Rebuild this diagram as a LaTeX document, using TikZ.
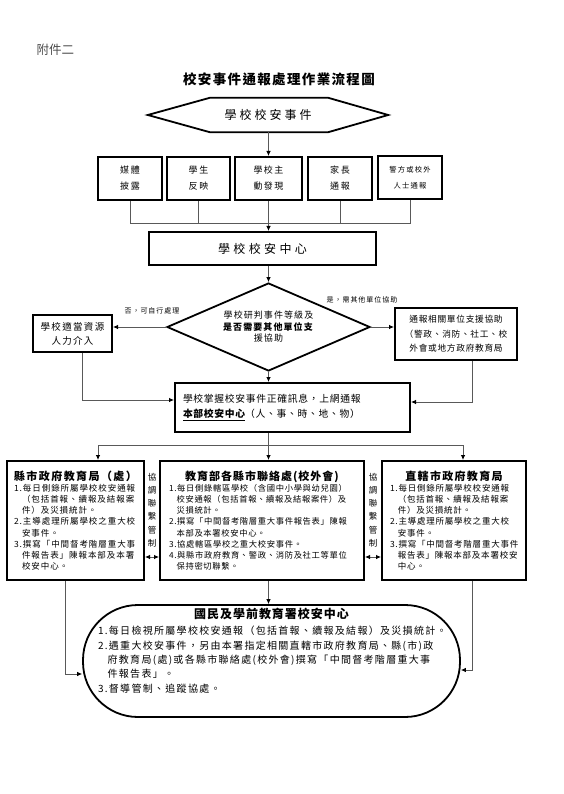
\documentclass[tikz,border=0pt]{standalone}
\usepackage{fontspec}
\setmainfont{Noto Sans CJK TC}
\usetikzlibrary{arrows.meta,shapes.geometric,calc}
\newcommand{\FS}[3]{\fontsize{#1}{#2}\selectfont\addfontfeature{LetterSpace=#3}}
\begin{document}
\begin{tikzpicture}[x=1pt,y=-1pt,
  box/.style={draw=black, line width=2pt, inner sep=0pt, align=center},
  conn/.style={draw=black!65, line width=0.8pt},
  arr/.style={conn, -{Latex[length=5pt,width=4.5pt,color=black]}},
  dbl/.style={conn, {Latex[length=5pt,width=4.5pt,color=black]}-{Latex[length=5pt,width=4.5pt,color=black]}},
  lbl/.style={inner sep=0pt, font={\FS{7}{9}{14}}},
  vlbl/.style={inner sep=0pt, align=center, font={\FS{8.5}{13.2}{0}}},
  listbox/.style={draw=black, line width=2pt, align=left, inner ysep=3pt}
]
\useasboundingbox (0,0) rectangle (564,794);

% header
\node[text=black!70, anchor=west, font={\FS{12.5}{15}{0}}] (att) at (33,50) {附件二};
\node[font={\bfseries\FS{13.5}{16}{10}}] (title) at (279,79) {校安事件通報處理作業流程圖};

% hexagon
\node[minimum width=240, minimum height=34, inner sep=0pt, font={\FS{12}{14}{25}}] (hex) at (268,115) {學校校安事件};
\draw[line width=1.8pt] (hex.west) -- ($(hex.north west)+(62,0)$) -- ($(hex.north east)+(-60,0)$) -- (hex.east) -- ($(hex.south east)+(-60,0)$) -- ($(hex.south west)+(62,0)$) -- cycle;

% five source boxes
\node[box, minimum width=64, minimum height=43, font={\FS{9}{16}{20}}] (b1) at (130,178.5) {媒體\\披露};
\node[box, minimum width=63, minimum height=43, font={\FS{9}{16}{20}}] (b2) at (198.5,178.5) {學生\\反映};
\node[box, minimum width=67, minimum height=43, font={\FS{9}{16}{14}}] (b3) at (268.5,178.5) {學校主\\動發現};
\node[box, minimum width=64, minimum height=43, font={\FS{9}{16}{20}}] (b4) at (340,178.5) {家長\\通報};
\node[box, minimum width=64, minimum height=43, font={\FS{7.3}{16}{16}}] (b5) at (410,178) {警方或校外\\人士通報};

\draw[arr] (hex.south -| b3.north) -- (b3.north);
\coordinate (m) at (268.5,223);
\draw[conn] (b1.south) |- (m);
\draw[conn] (b2.south) |- (m);
\draw[conn] (b4.south) |- (m);
\draw[conn] (b5.south) |- (m);
\draw[conn] (b3.south) -- (m);

% school safety center
\node[box, minimum width=227, minimum height=33, font={\FS{12}{14}{28}}] (cbox) at (262.5,248.5) {學校校安中心};
\draw[arr] (m) -- (m |- cbox.north);

% decision diamond
\node[draw, diamond, aspect=2.3, line width=1.8pt, minimum width=203, minimum height=88, inner sep=0pt, align=center, font={\FS{9}{11.5}{12}}] (D) at (268.5,327) {學校研判事件等級及\\\textbf{是否需要其他單位支}\\援協助};
\draw[arr] (D.north |- cbox.south) -- (D.north);

\node[box, minimum width=79, minimum height=37, font={\FS{9.5}{14}{14}}] (L2) at (72.5,333.5) {學校適當資源\\人力介入};
\node[box, minimum width=122, minimum height=52, font={\FS{8.7}{14.5}{8}}] (R2) at (456,334) {通報相關單位支援協助\\（警政、消防、社工、校\\外會或地方政府教育局};

\draw[arr] (D.west) -- (D.west -| L2.east);
\draw[arr] (D.east) -- (D.east -| R2.west);
\node[lbl] (lab1) at (152,311) {否，可自行處理};
\node[lbl] (lab2) at (362,300) {是，需其他單位協助};

% report box
\node[listbox, text width=219, inner xsep=8, minimum height=49, font={\FS{9.8}{15}{7}}] (M2) at (292.5,407.5) {學校掌握校安事件正確訊息，上網通報\\\textbf{\underline{本部校安中心}}（人、事、時、地、物）};
\draw[arr] (D.south) -- (D.south |- M2.north);
\draw[arr] ([xshift=9.5]L2.south) |- ([yshift=7.5]M2.west);
\draw[arr] ([xshift=16]R2.south) |- ([yshift=5.5]M2.east);

% three authority boxes
\coordinate (sp) at (268.5,445);
\node[listbox, text width=123, inner xsep=7, minimum height=119, font={\FS{8.5}{11.2}{11}}] (L3) at (75.5,520.5) {{\centering\bfseries\FS{11}{14}{13}縣市政府教育局（處）\par}
1.每日側錄所屬學校校安通報\\
\phantom{1.}（包括首報、續報及結報案\\
\phantom{1.}件）及災損統計。\\
2.主導處理所屬學校之重大校\\
\phantom{2.}安事件。\\
3.撰寫「中間督考階層重大事\\
\phantom{3.}件報告表」陳報本部及本署\\
\phantom{3.}校安中心。};
\node[listbox, text width=186, inner xsep=9, minimum height=119, font={\FS{8.3}{11.2}{8}}] (M3) at (262,520.5) {{\centering\bfseries\FS{11}{14}{9}教育部各縣市聯絡處(校外會)\par}
1.每日側錄轄區學校（含國中小學與幼兒園）\\
\phantom{1.}校安通報（包括首報、續報及結報案件）及\\
\phantom{1.}災損統計。\\
2.撰寫「中間督考階層重大事件報告表」陳報\\
\phantom{2.}本部及本署校安中心。\\
3.協處轄區學校之重大校安事件。\\
4.與縣市政府教育、警政、消防及社工等單位\\
\phantom{4.}保持密切聯繫。};
\node[listbox, text width=128, inner xsep=8, minimum height=119, font={\FS{8.5}{11.2}{9}}] (R3) at (454,520.5) {{\centering\bfseries\FS{11}{14}{12}直轄市政府教育局\par}
1.每日側錄所屬學校校安通報\\
\phantom{1.}（包括首報、續報及結報案\\
\phantom{1.}件）及災損統計。\\
2.主導處理所屬學校之重大校\\
\phantom{2.}安事件。\\
3.撰寫「中間督考階層重大事件\\
\phantom{3.}報告表」陳報本部及本署校安\\
\phantom{3.}中心。};

\draw[conn] (D.south |- M2.south) -- (sp);
\draw[arr] (sp) -| ([xshift=22.5]L3.north);
\draw[arr] (sp) -- (sp |- M3.north);
\draw[arr] (sp) -| ([xshift=9]R3.north);

\node[vlbl] (c1) at (152,510) {協\\調\\聯\\繫\\管\\制};
\node[vlbl] (c2) at (373,510) {協\\調\\聯\\繫\\管\\制};
\draw[dbl] ([yshift=-36.5]L3.east) -- ([yshift=-36.5]M3.west);
\draw[dbl] ([yshift=-36.5]M3.east) -- ([yshift=-36.5]R3.west);

% national center
\node[draw=black, line width=1.8pt, rounded corners=55, minimum width=377, minimum height=112, inner sep=0pt] (ov) at (271.5,661) {};
\node[anchor=north, text width=347, inner sep=0pt, align=left, font={\FS{10}{14.3}{13}}] (ovt) at (271.5,608) {{\centering\bfseries\FS{12}{15}{8}國民及學前教育署校安中心\par}\vspace{2pt}
1.每日檢視所屬學校校安通報（包括首報、續報及結報）及災損統計。\\
2.遇重大校安事件，另由本署指定相關直轄市政府教育局、縣(市)政\\
\phantom{2.}府教育局(處)或各縣市聯絡處(校外會)撰寫「中間督考階層重大事\\
\phantom{2.}件報告表」。\\
3.督導管制、追蹤協處。};

\draw[arr] (sp |- M3.south) -- (sp |- ov.north);
\draw[arr] ([xshift=-10.5]L3.south) |- ([yshift=-13]ov.west);
\draw[arr] ([xshift=18]R3.south) |- ([yshift=-9]ov.east);
\end{tikzpicture}
\end{document}
